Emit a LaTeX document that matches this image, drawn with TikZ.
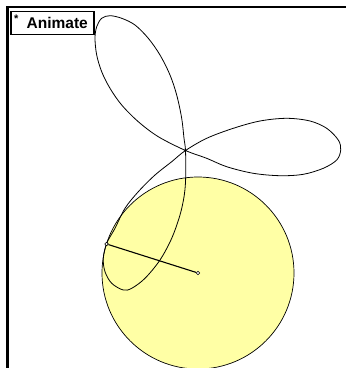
\documentclass[tikz,border=0pt]{standalone}
\usepackage{fontspec}
\setmainfont{Liberation Sans}
\usetikzlibrary{positioning}
\definecolor{disk}{RGB}{255,255,165}

\begin{document}
\begin{tikzpicture}[x=1pt, y=-1pt,
    frame/.style={line width=2.4pt},
    btnbox/.style={draw, rectangle, fill=white, line width=1.4pt, minimum width=83pt, minimum height=22.5pt, inner sep=0pt},
    btntext/.style={font=\fontsize{15.5}{15.5}\selectfont\bfseries, inner sep=0pt},
    icon/.style={font=\fontsize{11}{11}\selectfont\bfseries, inner sep=0pt},
    dot/.style={draw, circle, fill=white, minimum size=3.6pt, inner sep=0pt, line width=0.6pt},
    curve/.style={line width=0.8pt},
    seg/.style={line width=1.1pt}
]
\useasboundingbox (0,0) rectangle (346,368);
\clip (0,0) rectangle (346,368);

% Frame
\draw[frame] (7.5,380) -- (7.5,7) -- (360,7);

% Disk
\draw[fill=disk, line width=0.7pt] (198,273) circle[radius=96];

% Traced curve
\draw[curve] plot[smooth cycle, tension=0.55] coordinates {
    (185.5,150.5) (184,138.3) (181.7,118.3) (176.7,95) (170,75) (160,55)
    (148.3,38.3) (135,25) (121.7,18.3) (110,15.7) (101.7,18.3) (96.7,26.7)
    (95,38.3) (96.7,55) (101.7,71.7) (110,88.3) (121.7,105) (138.3,121.7)
    (158.3,136.7) (185.5,150.5) (206.7,158.3) (226.7,166.7) (253.3,173.3)
    (280,175.7) (303.3,174.3) (323.3,168.3) (336.7,160) (340.7,150)
    (338.3,140) (326.7,128.3) (310,121) (286.7,118.3) (260,121)
    (233.3,128.3) (206.7,138.3) (185.5,150.5) (171.7,161.7) (155,175)
    (138.3,191.7) (125,208.3) (115,228.3) (106.7,243.3) (103.3,258.3)
    (105,271.7) (111.7,283.3) (123.3,290) (131.7,288.3) (145,278.3)
    (160,260) (171.7,238.3) (180,215) (184.3,195) (185.7,176.7)};

% Radius
\node[dot] (ctr) at (198,273) {};
\node[dot] (pt) at (106.6,244) {};
\draw[seg] (ctr) -- (pt);

% Button
\node[btnbox] (animate) at (52.5,23) {};
\node[icon] (star) at (16.3,19) {*};
\node[btntext, anchor=base west] (lbl) at (26.5,28.5) {Animate};

\end{tikzpicture}
\end{document}
